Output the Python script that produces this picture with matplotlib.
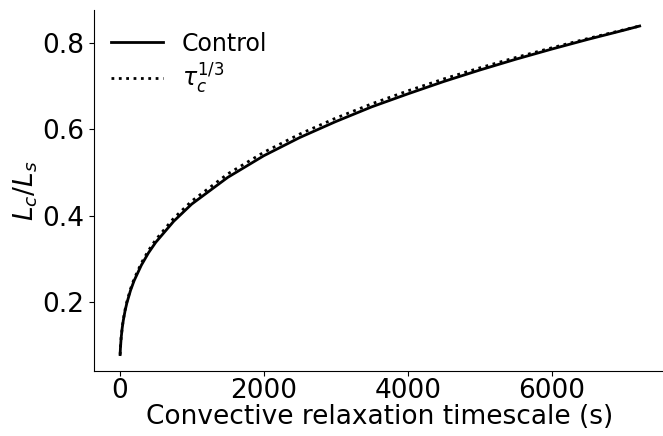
import numpy as np
import matplotlib.pyplot as plt

# convective relaxation timescale (s)
tau_c = [6, 10, 20, 35, 50, 75, 100, 150, 200, 300, 400, 500, 750, 1000,
         1500, 2000, 2500, 3000, 3500, 4000, 4500, 5000, 5500, 6000,
         6500, 7000, 7222]

# tau_c^(1/3) reference curve
lc_cube = [0.0789, 0.0935, 0.1178, 0.1420, 0.1599, 0.1830, 0.2015, 0.2306,
           0.2538, 0.2905, 0.3198, 0.3445, 0.3943, 0.4340, 0.4968, 0.5468,
           0.5890, 0.6259, 0.6590, 0.6889, 0.7166, 0.7421, 0.7661, 0.7886,
           0.8100, 0.8302, 0.8390]

# control run
lc_control = [0.0789, 0.0930, 0.1168, 0.1405, 0.1579, 0.1805, 0.1985, 0.2271,
              0.2498, 0.2855, 0.3143, 0.3385, 0.3873, 0.4270, 0.4888, 0.5388,
              0.5810, 0.6179, 0.6520, 0.6819, 0.7106, 0.7371, 0.7621, 0.7856,
              0.8080, 0.8292, 0.8390]

fig = plt.figure(figsize=(6.63, 4.36), dpi=100)
ax = fig.add_axes([0.142, 0.149, 0.862, 0.829])

ax.plot(tau_c, lc_control, color='black', lw=2, label='Control')
ax.plot(tau_c, lc_cube, color='black', lw=2, ls=':', label=r'$\tau_c^{1/3}$')

ax.set_xticks([0, 2000, 4000, 6000])
ax.set_yticks([0.2, 0.4, 0.6, 0.8])
ax.tick_params(labelsize=19)
ax.tick_params(axis='x', pad=1.5)
ax.set_xlabel('Convective relaxation timescale (s)', fontsize=19, labelpad=0)
ax.set_ylabel(r'$L_c/L_s$', fontsize=19, labelpad=2)

ax.spines['top'].set_visible(False)
ax.spines['right'].set_visible(False)

ax.legend(loc='upper left', frameon=False, fontsize=17,
          handlelength=2.2, borderaxespad=0.3, labelspacing=0.25,
          bbox_to_anchor=(0.0, 0.985))

fig.savefig('out.png', dpi=100)
